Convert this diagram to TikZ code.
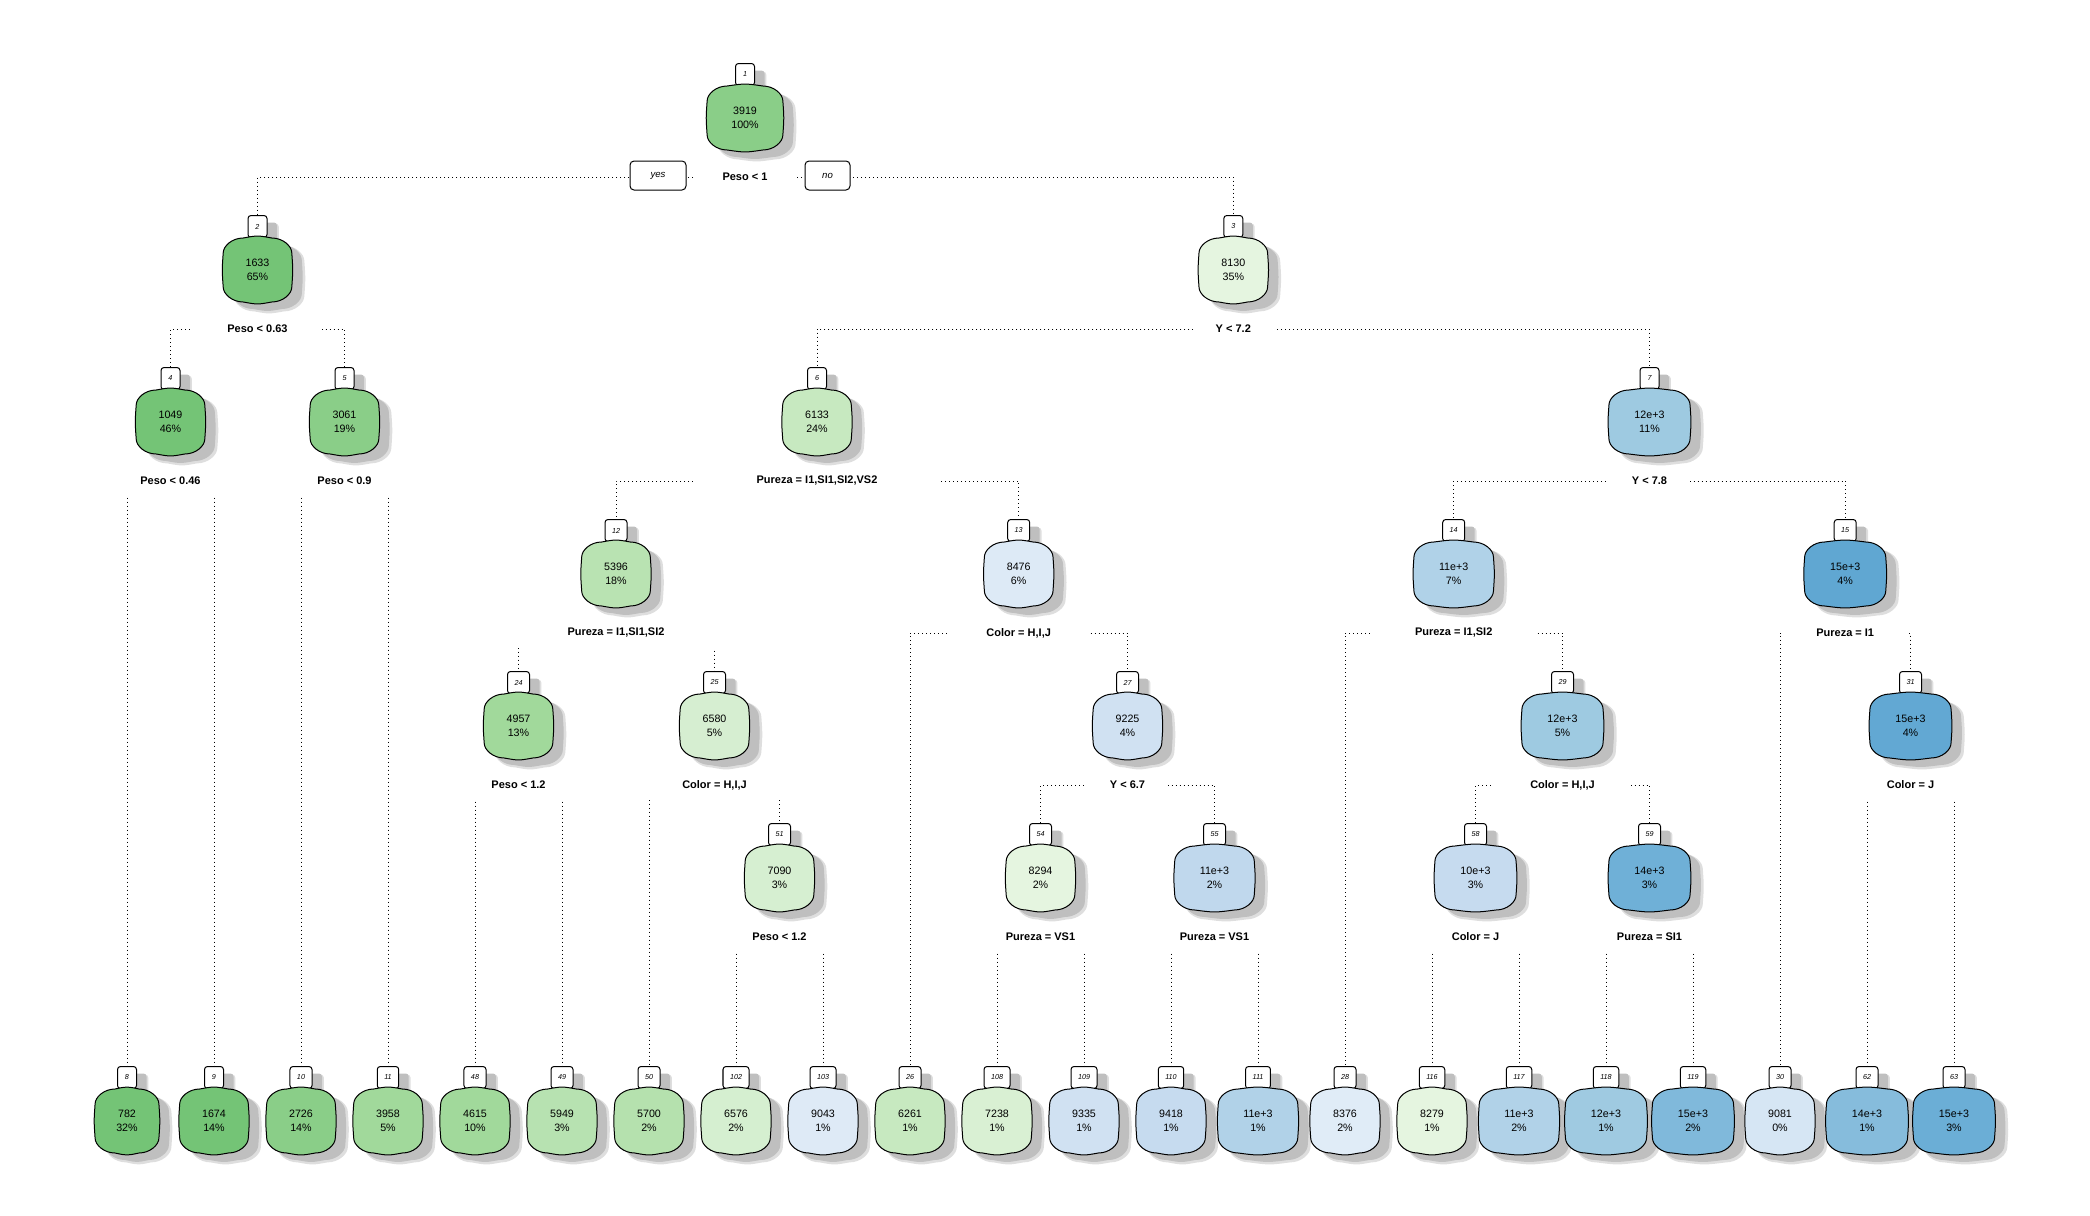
\documentclass[tikz,border=0pt]{standalone}
\usepackage{fontspec}
\setmainfont{Liberation Sans}
\usetikzlibrary{shadows}
\pgfdeclarelayer{bg}
\pgfdeclarelayer{shapes}
\pgfsetlayers{bg,shapes,main}
\newcommand\bodyfont{\fontsize{5.35}{7}\selectfont}
\newcommand\labfont{\bfseries\fontsize{5.5}{6.6}\selectfont}
\newcommand\numfont{\itshape\fontsize{3.6}{4}\selectfont}
\newlength\twa
\newlength\twb
\newcommand\measbody[2]{\settowidth\twa{#1}\settowidth\twb{#2}\ifdim\twb>\twa \twa=\twb\fi\global\twa=\twa}
\newcommand\measlab[1]{\settowidth\twa{#1}\global\twa=\twa}
\tikzset{
  shad/.style={drop shadow={shadow xshift=5.6pt, shadow yshift=-4.1pt, shadow scale=1.03, fill=black!13, opacity=1},
               drop shadow={shadow xshift=5pt, shadow yshift=-3.5pt, fill=black!25, opacity=1}},
  numbox/.style={draw, line width=0.5pt, fill=white, rounded corners=1.5pt, minimum width=9.5pt,
    minimum height=11pt, inner xsep=3.5pt, inner ysep=0pt, font=\numfont, shad, anchor=south},
  bodytext/.style={inner sep=0pt, align=center, font=\bodyfont},
  bodyshape/.style={draw, line width=0.5pt, shad},
  splitlab/.style={fill=white, minimum height=15pt, inner sep=0pt, font=\labfont},
  yn/.style={draw, line width=0.5pt, fill=white, rounded corners=2pt, minimum height=14.5pt, inner sep=0pt,
    font=\itshape\fontsize{4.8}{5}\selectfont},
  conn/.style={line width=0.5pt, dash pattern=on 0.5pt off 1.5pt}
}
% name, x, y, value, pct, hex colour
\newcommand\mknode[6]{%
  \definecolor{fc#1}{HTML}{#6}%
  \node[bodytext] (n#1) at (#2,#3) {\measbody{#4}{#5}#4\\#5};
  \begin{pgfonlayer}{shapes}
  \node[numbox] (b#1) at (#2,#3-32) {#1};
  \pgfmathsetlengthmacro\W{\twa+5.25pt}%
  \path[bodyshape, fill=fc#1, shift={(n#1.center)}]
    (-\W+10pt,16pt) .. controls (0pt,17.3pt) .. (\W-10pt,16pt)
    .. controls (\W-4.5pt,16pt) and (\W,12pt) .. (\W,8.5pt)
    .. controls (\W+0.6pt,0pt) .. (\W,-8.5pt)
    .. controls (\W,-12pt) and (\W-4.5pt,-16pt) .. (\W-10pt,-16pt)
    .. controls (0pt,-17.3pt) .. (-\W+10pt,-16pt)
    .. controls (-\W+4.5pt,-16pt) and (-\W,-12pt) .. (-\W,-8.5pt)
    .. controls (-\W-0.6pt,0pt) .. (-\W,8.5pt)
    .. controls (-\W,12pt) and (-\W+4.5pt,16pt) .. (-\W+10pt,16pt) -- cycle;
  \end{pgfonlayer}
}
% name, x, y(of node), text
\newcommand\mklab[4]{%
  \node[splitlab, minimum width=1.95*\twa+6pt] (L#1) at (#2,#3+59) {\measlab{#4}#4};
}
\begin{document}
\begin{tikzpicture}[x=0.5pt,y=-0.5pt]
\useasboundingbox (0,0) rectangle (2090,1216);
% internal nodes
\mknode{1}{745}{118}{3919}{100\%}{8ACE88}
\mknode{2}{257.5}{270}{1633}{65\%}{74C476}
\mknode{3}{1233.3}{270}{8130}{35\%}{E5F5E0}
\mknode{4}{170.5}{422}{1049}{46\%}{74C476}
\mknode{5}{344.5}{422}{3061}{19\%}{8ACE88}
\mknode{6}{817}{422}{6133}{24\%}{C7E9C0}
\mknode{7}{1649.5}{422}{12e+3}{11\%}{9ECAE1}
\mknode{12}{616}{574}{5396}{18\%}{B9E3B2}
\mknode{13}{1018.7}{574}{8476}{6\%}{DDEAF6}
\mknode{14}{1453.7}{574}{11e+3}{7\%}{B0D2E8}
\mknode{15}{1845.2}{574}{15e+3}{4\%}{60A7D2}
\mknode{24}{518.5}{726}{4957}{13\%}{A1D99B}
\mknode{25}{714.5}{726}{6580}{5\%}{D6EED1}
\mknode{27}{1127.5}{726}{9225}{4\%}{D0E1F2}
\mknode{29}{1562.5}{726}{12e+3}{5\%}{9ECAE1}
\mknode{31}{1910.5}{726}{15e+3}{4\%}{62A8D3}
\mknode{51}{779.5}{878}{7090}{3\%}{D6EFD1}
\mknode{54}{1040.5}{878}{8294}{2\%}{E5F5E0}
\mknode{55}{1214.5}{878}{11e+3}{2\%}{C0D8ED}
\mknode{58}{1475.5}{878}{10e+3}{3\%}{C6DBEF}
\mknode{59}{1649.5}{878}{14e+3}{3\%}{6FB0D7}
% leaves
\mknode{8}{127}{1121}{782}{32\%}{74C476}
\mknode{9}{214}{1121}{1674}{14\%}{74C476}
\mknode{10}{301}{1121}{2726}{14\%}{8ACE88}
\mknode{11}{388}{1121}{3958}{5\%}{A1D99B}
\mknode{48}{475}{1121}{4615}{10\%}{A1D99B}
\mknode{49}{562}{1121}{5949}{3\%}{B7E2B1}
\mknode{50}{649}{1121}{5700}{2\%}{B5E1AE}
\mknode{102}{736}{1121}{6576}{2\%}{D5EFD0}
\mknode{103}{823}{1121}{9043}{1\%}{DEEAF6}
\mknode{26}{910}{1121}{6261}{1\%}{C7E9C0}
\mknode{108}{997}{1121}{7238}{1\%}{D9F0D3}
\mknode{109}{1084}{1121}{9335}{1\%}{D0E1F2}
\mknode{110}{1171}{1121}{9418}{1\%}{C6DBEF}
\mknode{111}{1258}{1121}{11e+3}{1\%}{B1D2E8}
\mknode{28}{1345}{1121}{8376}{2\%}{E0ECF7}
\mknode{116}{1432}{1121}{8279}{1\%}{E5F5E0}
\mknode{117}{1519}{1121}{11e+3}{2\%}{B1D2E8}
\mknode{118}{1606}{1121}{12e+3}{1\%}{9FCAE1}
\mknode{119}{1693}{1121}{15e+3}{2\%}{80B9DB}
\mknode{30}{1780}{1121}{9081}{0\%}{D6E6F4}
\mknode{62}{1867}{1121}{14e+3}{1\%}{86BCDC}
\mknode{63}{1954}{1121}{15e+3}{3\%}{6BAED6}
% split labels
\mklab{1}{745}{118}{Peso < 1}
\mklab{2}{257.5}{270}{Peso < 0.63}
\mklab{3}{1233.3}{270}{Y < 7.2}
\mklab{4}{170.5}{422}{Peso < 0.46}
\mklab{5}{344.5}{422}{Peso < 0.9}
\mklab{6}{817}{422}{Pureza = I1,SI1,SI2,VS2}
\mklab{7}{1649.5}{422}{Y < 7.8}
\mklab{12}{616}{574}{Pureza = I1,SI1,SI2}
\mklab{13}{1018.7}{574}{Color = H,I,J}
\mklab{14}{1453.7}{574}{Pureza = I1,SI2}
\mklab{15}{1845.2}{574}{Pureza = I1}
\mklab{24}{518.5}{726}{Peso < 1.2}
\mklab{25}{714.5}{726}{Color = H,I,J}
\mklab{27}{1127.5}{726}{Y < 6.7}
\mklab{29}{1562.5}{726}{Color = H,I,J}
\mklab{31}{1910.5}{726}{Color = J}
\mklab{51}{779.5}{878}{Peso < 1.2}
\mklab{54}{1040.5}{878}{Pureza = VS1}
\mklab{55}{1214.5}{878}{Pureza = VS1}
\mklab{58}{1475.5}{878}{Color = J}
\mklab{59}{1649.5}{878}{Pureza = SI1}
% yes / no
\node[yn, minimum width=28pt] (yes) at (658,175.5) {yes};
\node[yn, minimum width=22.5pt] (no) at (827.5,175.5) {no};
% connectors
\begin{pgfonlayer}{bg}
\foreach \p/\c in {1/2,1/3,2/4,2/5,3/6,3/7,4/8,4/9,5/10,5/11,6/12,6/13,7/14,7/15,
  12/24,12/25,13/26,13/27,14/28,14/29,15/30,15/31,24/48,24/49,25/50,25/51,27/54,27/55,
  29/58,29/59,31/62,31/63,51/102,51/103,54/108,54/109,55/110,55/111,58/116,58/117,59/118,59/119}
  \draw[conn] (L\p.center) -| (b\c.north);
\end{pgfonlayer}
\end{tikzpicture}
\end{document}
